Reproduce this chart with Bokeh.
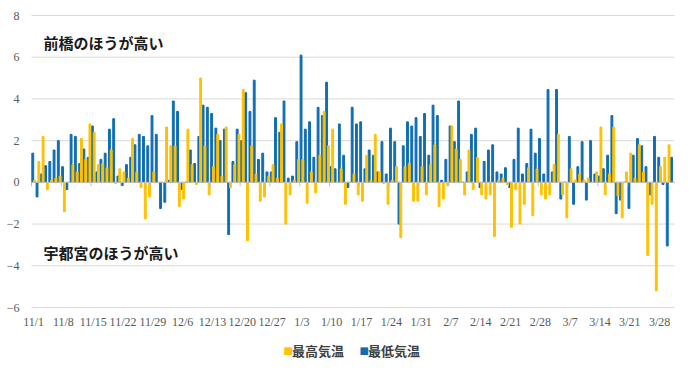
import numpy as np
from bokeh.plotting import figure
from bokeh.models import Range1d, Label, LabelSet, ColumnDataSource
from bokeh.embed import file_html
from bokeh.resources import INLINE

# ---- data: difference 前橋 − 宇都宮 (°C), daily from 11/1 to 3/31 ----
tick_labels = ["11/1", "11/8", "11/15", "11/22", "11/29", "12/6", "12/13", "12/20",
               "12/27", "1/3", "1/10", "1/17", "1/24", "1/31", "2/7", "2/14",
               "2/21", "2/28", "3/7", "3/14", "3/21", "3/28"]

max_temp = [  # 最高気温
    0.1, 1.0, 2.2, -0.35, 0.1, 0.2, 0.3, -1.4, 0.0, 0.85,
    0.5, 2.1, 1.1, 2.8, 2.4, 0.85, 0.9, 0.7, 1.55, -0.05,
    0.65, 0.5, 0.2, 2.1, 0.5, -0.25, -1.75, -0.7, 0.5, 0.0,
    0.0, 2.65, 1.75, 1.75, -1.15, -0.8, 2.55, 0.85, -0.1, 5.0,
    1.75, -0.6, 0.75, 2.3, 0.3, 2.65, -0.25, 0.85, 2.3, 4.45,
    -2.8, 1.75, 0.4, -0.9, -0.7, 0.3, 0.85, 0.2, 2.8, -2.0,
    -0.6, 0.1, 1.1, 1.1, -1.0, 0.5, -0.5, 1.3, 3.4, 1.75,
    2.55, 0.0, 0.65, -1.05, 0.0, 0.4, -0.6, -0.9, 1.3, 0.1,
    2.3, 0.5, -0.05, -1.05, 0.1, 0.75, -2.65, 0.75, 0.9, -0.9,
    -0.9, 0.75, -0.6, 0.85, 1.8, -1.15, -0.8, -0.15, 2.7, 1.6,
    1.1, -0.6, 1.55, -0.35, 1.2, -0.6, -0.8, -0.6, -2.6, 0.1,
    0.2, -0.1, -2.15, -0.35, -2.0, -1.05, 0.7, -1.6, 0.65, -0.6,
    -0.8, -0.6, 0.85, 2.3, -0.6, -1.7, 0.65, 0.1, 0.4, 0.1,
    0.2, 0.0, 0.5, 2.65, -0.6, 0.4, 2.65, -0.65, -1.7, 0.5,
    1.4, 0.2, 1.8, 0.5, -3.5, -1.05, -5.2, 0.75, 1.2, 1.8,
    0.0,
]

min_temp = [  # 最低気温
    1.4, -0.7, 0.4, 0.8, 1.0, 1.55, 2.0, 0.75, -0.35, 2.3,
    2.2, 0.9, 1.6, 1.2, 2.7, 0.5, 1.1, 1.4, 2.55, 3.05,
    0.3, -0.15, 0.85, 1.2, 1.8, 2.3, 2.2, 1.75, 3.2, 2.3,
    -1.25, -0.95, 0.1, 3.9, 3.4, -0.35, 0.0, 1.55, 0.9, 2.2,
    3.7, 3.6, 3.3, 2.6, 2.0, 2.55, -2.5, 1.0, 2.55, 2.0,
    4.3, 3.4, 4.9, 1.1, 1.4, 0.5, 0.5, 3.1, 2.4, 3.9,
    0.2, 0.3, 1.95, 6.1, 2.55, 2.9, 1.2, 3.6, 3.2, 4.8,
    0.75, 0.65, 2.8, 1.3, -0.25, 3.6, 2.8, 2.9, 0.65, 1.55,
    1.3, 0.5, 1.95, 0.4, 2.6, 1.95, -2.0, 1.75, 2.9, 2.7,
    3.1, 2.2, 3.3, 1.3, 3.7, 3.2, 0.1, 1.1, 2.7, 1.95,
    3.9, 0.0, 0.5, 2.3, 2.6, -0.25, 1.0, 1.55, 1.8, 0.5,
    0.4, 0.7, -0.25, 1.1, 2.6, 0.4, 0.9, 2.55, 1.4, 2.1,
    0.4, 4.45, 0.5, 4.45, -0.8, 0.0, 2.2, -1.05, 0.75, 1.95,
    -0.85, 2.0, 0.4, 0.3, 0.65, 1.3, 3.2, -1.5, -0.85, 0.0,
    -1.25, 1.3, 2.1, 1.75, 0.75, -0.6, 2.2, 1.2, -0.1, -3.05,
    1.2,
]

series_names = ["最高気温", "最低気温"]
y_ticks = [-6, -4, -2, 0, 2, 4, 6, 8]

YELLOW = "#FFC000"
BLUE = "#0F6DB3"
GRID = "#D9D9D9"
TXT = "#595959"
TICK_FONT = "'Liberation Sans Narrow', 'DejaVu Sans Condensed', Roboto"
JP_FONT = "Noto Sans CJK JP"

n = len(max_temp)
days = np.arange(n)

# ---- layout: the frame covers the whole figure; the data band occupies
# 643 x 292 px starting 31 px from the left and 15 px from the top ----
W, H = 689, 360
LEFT, TOP, BAND_W, BAND_H = 31, 15, 643, 292
ppd = BAND_W / n                                   # px per day
ppu = BAND_H / (y_ticks[-1] - y_ticks[0])          # px per degree
x_start = -LEFT / ppd
x_end = (W - LEFT) / ppd
y_top = y_ticks[-1] + TOP / ppu
y_bot = y_ticks[-1] - (H - TOP) / ppu

p = figure(output_backend="svg", toolbar_location=None, width=W, height=H,
           min_border=0, x_range=Range1d(x_start, x_end), y_range=Range1d(y_bot, y_top))
p.outline_line_color = None
p.background_fill_color = "white"
p.xaxis.visible = False
p.yaxis.visible = False
p.grid.visible = False

# horizontal gridlines
p.segment(x0=[0] * len(y_ticks), x1=[n] * len(y_ticks), y0=y_ticks, y1=y_ticks,
          line_color=GRID, line_width=1)

# bars
rb = p.vbar(x=days + 0.3, top=min_temp, width=0.44, color=BLUE)
ry = p.vbar(x=days + 0.72, top=max_temp, width=0.44, color=YELLOW)

# zero line with category tick marks
p.segment(x0=[0], x1=[n], y0=[0], y1=[0], line_color="#BFBFBF", line_width=1)
tick_pos = days[::7]
p.segment(x0=tick_pos, y0=np.zeros(len(tick_pos)), x1=tick_pos,
          y1=np.full(len(tick_pos), -4 / ppu), line_color="#BFBFBF", line_width=1)

# y tick labels
ylab = [str(t) if t >= 0 else "\u2212" + str(-t) for t in y_ticks]
y_src = ColumnDataSource(dict(x=[-12 / ppd] * len(y_ticks), y=y_ticks, text=ylab))
p.add_layout(LabelSet(x="x", y="y", text="text", source=y_src,
                      text_align="right", text_baseline="middle",
                      text_font=TICK_FONT, text_font_size="12px", text_color=TXT))

# category (date) labels below the -6 line
cat_y = y_ticks[0] - 14 / ppu
cat_src = ColumnDataSource(dict(x=[float(d) + 0.5 for d in days[::7]],
                                y=[cat_y] * len(tick_labels), text=tick_labels))
p.add_layout(LabelSet(x="x", y="y", text="text", source=cat_src,
                      text_align="center", text_baseline="middle",
                      text_font=TICK_FONT, text_font_size="12px", text_color=TXT))

# annotations
p.add_layout(Label(x=2.8, y=6.7, text="前橋のほうが高い", text_font=JP_FONT,
                   text_font_style="bold", text_font_size="15px", text_color="#1A1A1A",
                   text_baseline="middle"))
p.add_layout(Label(x=2.8, y=-3.35, text="宇都宮のほうが高い", text_font=JP_FONT,
                   text_font_style="bold", text_font_size="15px", text_color="#1A1A1A",
                   text_baseline="middle"))

# legend drawn as labels below the category labels
leg_y = y_ticks[0] - 43 / ppu
for sx, tx, col, name in [(59.2, 61.2, YELLOW, series_names[0]),
                          (77.0, 79.0, BLUE, series_names[1])]:
    p.add_layout(Label(x=sx, y=leg_y, text="\u25A0", text_font="DejaVu Sans",
                       text_font_size="10px", text_color=col, text_baseline="middle"))
    p.add_layout(Label(x=tx, y=leg_y, text=name, text_font=JP_FONT,
                       text_font_style="bold", text_font_size="13px",
                       text_color="#404040", text_baseline="middle"))

open("out.html", "w").write(file_html(p, INLINE))
